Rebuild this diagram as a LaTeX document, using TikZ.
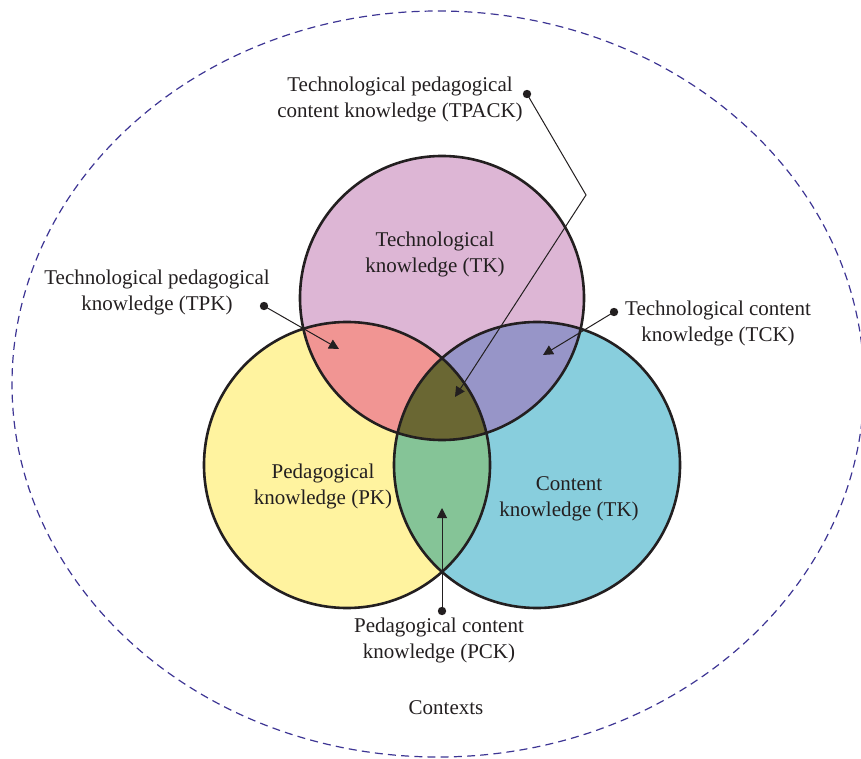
\documentclass[tikz,border=0pt]{standalone}
\usepackage{fontspec}
\setmainfont{Liberation Serif}
\usetikzlibrary{arrows.meta}

\definecolor{tkpink}{HTML}{DDB6D5}
\definecolor{pkyellow}{HTML}{FFF39F}
\definecolor{ckblue}{HTML}{88CEDD}
\definecolor{tpkred}{HTML}{F19593}
\definecolor{tckviolet}{HTML}{9795C8}
\definecolor{pckgreen}{HTML}{85C497}
\definecolor{tpackolive}{HTML}{6A6733}
\definecolor{ctxblue}{HTML}{3D3594}
\definecolor{inkgray}{HTML}{231F20}

\begin{document}
\begin{tikzpicture}[x=0.5pt, y=-0.5pt, font=\fontsize{10.5}{13}\selectfont,
  lbl/.style={align=center, text=inkgray, inner sep=1pt},
  ring/.style={line width=1.3pt, draw=inkgray},
  dot/.style={circle, fill=inkgray, inner sep=0pt, minimum size=4.2pt},
  pointer/.style={line width=0.5pt, draw=inkgray, -{Triangle[length=5pt,width=5pt]}}]
	\useasboundingbox (0,0) rectangle (861,759);
	\draw[ctxblue, line width=0.6pt, dash pattern=on 4pt off 2.6pt] (438,384) ellipse [x radius=213pt, y radius=186.5pt];
	\coordinate (tk) at (442,298);
	\coordinate (pk) at (347,465);
	\coordinate (ck) at (537,465);
	\fill[tkpink] (tk) circle [radius=71pt];
	\fill[pkyellow] (pk) circle [radius=71.5pt];
	\fill[ckblue] (ck) circle [radius=71.5pt];
	\begin{scope}
	  \clip (tk) circle [radius=71pt];
	  \fill[tpkred] (pk) circle [radius=71.5pt];
	  \fill[tckviolet] (ck) circle [radius=71.5pt];
	\end{scope}
	\begin{scope}
	  \clip (pk) circle [radius=71.5pt];
	  \fill[pckgreen] (ck) circle [radius=71.5pt];
	\end{scope}
	\begin{scope}
	  \clip (tk) circle [radius=71pt];
	  \clip (pk) circle [radius=71.5pt];
	  \fill[tpackolive] (ck) circle [radius=71.5pt];
	\end{scope}
	\draw[ring] (tk) circle [radius=71pt];
	\draw[ring] (pk) circle [radius=71.5pt];
	\draw[ring] (ck) circle [radius=71.5pt];

	\node[lbl] (tklbl) at (435,254) {Technological\\knowledge (TK)};
	\node[lbl] (pklbl) at (323,486) {Pedagogical\\knowledge (PK)};
	\node[lbl] (cklbl) at (569,499) {Content\\knowledge (TK)};
	\node[lbl] (tpacklbl) at (400,99) {Technological pedagogical\\content knowledge (TPACK)};
	\node[lbl] (tpklbl) at (157,292) {Technological pedagogical\\knowledge (TPK)};
	\node[lbl] (tcklbl) at (718,323) {Technological content\\knowledge (TCK)};
	\node[lbl] (pcklbl) at (439,640) {Pedagogical content\\knowledge (PCK)};
	\node[lbl] (ctxlbl) at (446,708) {Contexts};

	\node[dot] (tpackdot) at (527,94) {};
	\node[dot] (tpkdot) at (264,306) {};
	\node[dot] (tckdot) at (614,312) {};
	\node[dot] (pckdot) at (442,611) {};
	\coordinate (tpackbend) at (586,195);
	\coordinate (tpacktip) at (455,397);
	\coordinate (tpktip) at (339,349);
	\coordinate (tcktip) at (543,355);
	\coordinate (pcktip) at (442,508);
	\draw[pointer] (tpackdot.center) -- (tpackbend) -- (tpacktip);
	\draw[pointer] (tpkdot.center) -- (tpktip);
	\draw[pointer] (tckdot.center) -- (tcktip);
	\draw[pointer] (pckdot.center) -- (pcktip);
\end{tikzpicture}
\end{document}
